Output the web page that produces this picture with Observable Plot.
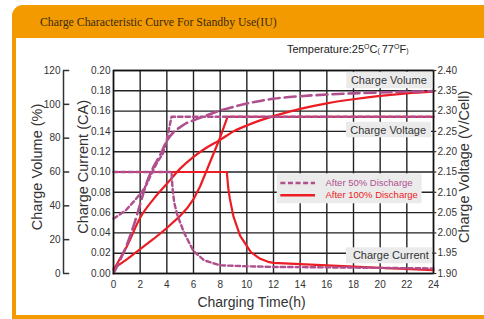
<!DOCTYPE html>
<html><head><meta charset="utf-8">
<script src="https://cdn.jsdelivr.net/npm/d3@7"></script>
<script src="https://cdn.jsdelivr.net/npm/@observablehq/plot@0.6"></script>
<style>
body{margin:0;background:#fff;}
#wrap{position:relative;width:484px;height:319px;overflow:hidden;background:#fff;font-family:"Liberation Sans",Arial,sans-serif;}
#frame{position:absolute;left:12px;top:5px;width:500px;height:330px;background:#f29a00;border-radius:11px 11px 0 0;}
#inner{position:absolute;left:16px;top:38px;width:500px;height:277px;background:#fff;}
#title{position:absolute;left:40px;top:15px;font-family:"Liberation Serif","DejaVu Serif",serif;font-size:11.8px;color:#3b2a10;white-space:nowrap;}
#temp{position:absolute;left:287px;top:43px;font-size:11px;color:#222;white-space:nowrap;}
#temp .s{font-size:7px;}
#temp sup{font-size:7px;vertical-align:4px;}
#chart{position:absolute;left:0;top:0;}
</style></head>
<body>
<div id="wrap">
  <div id="frame"></div>
  <div id="inner"></div>
  <div id="title">Charge Characteristic Curve For Standby Use(IU)</div>
  <div id="temp">Temperature:25<sup>O</sup>C<span class="s">( </span>77<sup>O</sup>F<span class="s">)</span></div>
  <div id="chart"></div>
</div>
<script>
// ---- ticks ----
const xTicks = [0,2,4,6,8,10,12,14,16,18,20,22,24];
const currentTicks = [0,0.02,0.04,0.06,0.08,0.10,0.12,0.14,0.16,0.18,0.20];
const voltageTicks = [1.90,1.95,2.00,2.05,2.10,2.15,2.20,2.25,2.30,2.35,2.40];
const volumeTicks = [0,20,40,60,80,100,120];

// ---- series: [hours, value] ----
// charge current (CA)
const current50 = [[0,0.10],[4.35,0.10],[4.42,0.085],[4.55,0.07],[4.8,0.057],[5.3,0.04],[6.0,0.022],[6.8,0.013],[8.0,0.008],[10,0.0071],[12,0.0065],[18,0.0058],[24,0.005]];
const current100 = [[0,0.10],[8.5,0.10],[8.6,0.085],[8.72,0.074],[9.0,0.056],[9.5,0.037],[10.3,0.021],[11.0,0.0145],[11.6,0.0115],[12,0.0104],[14,0.0093],[18,0.0068],[24,0.0032]];
// charge voltage (V/Cell)
const voltage50 = [[0,2.035],[0.9,2.055],[1.6,2.08],[2.1,2.10],[2.5,2.12],[2.9,2.15],[3.3,2.175],[3.7,2.195],[4.0,2.23],[4.35,2.286],[24,2.286]];
const voltage100 = [[0,1.912],[1,1.935],[2,1.96],[3,1.985],[4,2.012],[5,2.042],[5.5,2.06],[6,2.083],[6.5,2.115],[7,2.155],[7.5,2.195],[8,2.235],[8.55,2.286],[24,2.286]];
// charge volume (%)
const volume50 = [[0,0],[0.5,8],[1,17],[1.5,28],[2,41],[2.5,54],[3,63],[3.5,70],[4,78.5],[4.5,83.5],[5,86.5],[5.5,89],[6,90.5],[7,93.5],[8,96.3],[9,98.5],[10,100.5],[11,102],[12,103.3],[14,104.8],[16,105.8],[18,106.5],[20,107],[22,107.4],[24,107.8]];
const volume100 = [[0,2],[0.5,9],[1,16],[2,33],[3,44],[4,53],[5,62],[6,69],[7,74.5],[8,79],[9,84],[10,87.5],[11,90.5],[12,93],[14,97.3],[16,100.6],[18,103],[20,105],[22,106.5],[24,107.5]];

const labels = ["Charge Volume","Charge Voltage","Charge Current"];
const legendNames = ["After 50% Discharge","After 100% Discharge"];

// map secondary units onto the current (CA) scale
const vToY = v => (v - 1.9) / 0.5 * 0.2;
const pToY = p => p / 120 * 0.2;

const RED = "#ec1c24", PUR = "#b04f8e", INK = "#333";
const FONT = "Liberation Sans, Arial, sans-serif";

const lineOpts = (y, stroke, extra) => Object.assign({x: d => d[0], y: d => y(d[1]), stroke, strokeWidth: 2.2, curve: "monotone-x"}, extra || {});
const idY = v => v;

const chart = Plot.plot({
  width: 484, height: 319,
  marginLeft: 113, marginRight: 51, marginTop: 70, marginBottom: 46,
  style: {background: "transparent", fontFamily: FONT, color: INK, overflow: "visible"},
  x: {domain: [0, 24], axis: null},
  y: {domain: [0, 0.2], axis: null},
  marks: [
    // grid
    Plot.ruleX(xTicks, {x: d => d, y1: 0, y2: 0.2, stroke: "#222", strokeWidth: 1.4}),
    Plot.ruleY(currentTicks, {y: d => d, x1: 0, x2: 24, stroke: "#222", strokeWidth: 1.4}),
    // annotation boxes
    Plot.rect([0], {x1: 17.5, x2: 24, y1: 0.182, y2: 0.1983, fill: "#ebebeb"}),
    Plot.rect([0], {x1: 17.47, x2: 23.85, y1: 0.1337, y2: 0.149, fill: "#ebebeb"}),
    Plot.rect([0], {x1: 17.47, x2: 23.95, y1: 0.0096, y2: 0.0253, fill: "#ebebeb"}),
    Plot.rect([0], {x1: 12.28, x2: 23.15, y1: 0.0687, y2: 0.0982, fill: "#ebebeb"}),
    Plot.text([labels[0]], {x: 20.65, y: 0.190, text: d => d, fontSize: 11, fill: INK}),
    Plot.text([labels[1]], {x: 20.6, y: 0.1413, text: d => d, fontSize: 11, fill: INK}),
    Plot.text([labels[2]], {x: 20.8, y: 0.0173, text: d => d, fontSize: 11, fill: INK}),
    // legend
    Plot.ruleY([0.0892], {y: d => d, x1: 12.55, x2: 15.15, stroke: PUR, strokeWidth: 2.5, strokeDasharray: "5,2.6"}),
    Plot.ruleY([0.0770], {y: d => d, x1: 12.55, x2: 15.15, stroke: RED, strokeWidth: 2.5}),
    Plot.text([legendNames[0]], {x: 15.9, y: 0.0892, text: d => d, textAnchor: "start", fontSize: 9.5, fill: PUR}),
    Plot.text([legendNames[1]], {x: 15.9, y: 0.0770, text: d => d, textAnchor: "start", fontSize: 9.5, fill: RED}),
    // curves: 100% (red) below, 50% (purple) on top
    Plot.line(volume100, lineOpts(pToY, RED)),
    Plot.line(voltage100, lineOpts(vToY, RED, {curve: "linear"})),
    Plot.line(current100, lineOpts(idY, RED, {curve: "linear"})),
    Plot.line(volume50, lineOpts(pToY, PUR, {strokeWidth: 2.6, strokeDasharray: "11,5"})),
    Plot.line(voltage50, lineOpts(vToY, PUR, {strokeWidth: 2.4, strokeDasharray: "4.5,3", curve: "linear"})),
    Plot.line(current50, lineOpts(idY, PUR, {strokeWidth: 2.4, strokeDasharray: "4.5,3", curve: "linear"})),
    // frame
    Plot.frame({stroke: "#111", strokeWidth: 1.5}),
    // x axis
    Plot.text(xTicks, {x: d => d, y: 0, dy: 11, text: d => String(d), fontSize: 10, fill: INK}),
    Plot.text(["Charging Time(h)"], {x: 10.35, y: -0.0285, text: d => d, fontSize: 14, fill: INK}),
    // left current axis
    Plot.text(currentTicks, {x: 0, y: d => d, dx: -3, text: d => d.toFixed(2), textAnchor: "end", fontSize: 10, fill: INK}),
    Plot.text(["Charge Current (CA)"], {x: -2.25, y: 0.105, text: d => d, rotate: -90, fontSize: 14.5, fill: INK}),
    // left volume axis
    Plot.ruleX([-3.75], {x: d => d, y1: 0, y2: 0.2, stroke: INK, strokeWidth: 1.5}),
    Plot.ruleY(volumeTicks, {y: pToY, x1: -3.75, x2: -3.28, stroke: INK, strokeWidth: 1.5}),
    Plot.text(volumeTicks, {x: -3.75, y: pToY, dx: -3, text: d => String(d), textAnchor: "end", fontSize: 10, fill: INK}),
    Plot.text(["Charge Volume (%)"], {x: -5.72, y: 0.105, text: d => d, rotate: -90, fontSize: 14.5, fill: INK}),
    // right voltage axis
    Plot.ruleY(voltageTicks, {y: vToY, x1: 24, x2: 24.25, stroke: INK, strokeWidth: 1.2}),
    Plot.text(voltageTicks, {x: 24, y: vToY, dx: 4, text: d => d.toFixed(2), textAnchor: "start", fontSize: 10, fill: INK}),
    Plot.text(["Charge Voltage (V/Cell)"], {x: 26.33, y: 0.105, text: d => d, rotate: -90, fontSize: 14.5, fill: INK})
  ]
});
document.getElementById("chart").appendChild(chart);
</script>
</body></html>
